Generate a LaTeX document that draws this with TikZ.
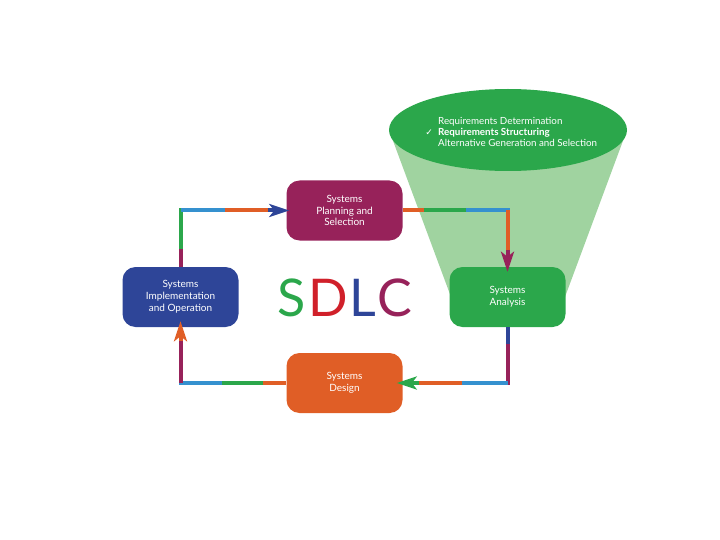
\documentclass[tikz,border=0pt]{standalone}
\usepackage{fontspec}
\setmainfont{Lato}
\newfontfamily\symfont{DejaVu Sans}
\usetikzlibrary{arrows.meta,shapes.geometric}
\definecolor{cpurple}{HTML}{97225A}
\definecolor{cgreen}{HTML}{2BA74B}
\definecolor{corange}{HTML}{E05E26}
\definecolor{cblue}{HTML}{2E4598}
\definecolor{clblue}{HTML}{3591CF}
\definecolor{cred}{HTML}{D0202A}
\definecolor{cfunnel}{HTML}{A0D3A0}
\tikzset{
  phase/.style={rounded corners=13pt, minimum width=116pt, minimum height=60pt,
    inner sep=0pt, text=white, align=center, font=\fontsize{10}{11.8}\selectfont},
  seg/.style={line width=4pt},
  tip/.style={line width=4pt, -{Stealth[length=20pt,width=13pt,inset=5pt]}}
}
\begin{document}
\begin{tikzpicture}[x=1pt,y=-1pt]
\useasboundingbox (0,0) rectangle (720,540);
% funnel and ellipse
\fill[cfunnel] (389,130) -- (454,305) -- (562,305) -- (627,130) -- cycle;
\node[ellipse, fill=cgreen, minimum width=238pt, minimum height=82pt, inner sep=0pt] (ell) at (508,130) {};
\node[anchor=west, text=white, align=left, font=\fontsize{9.8}{10.8}\selectfont, inner sep=0pt] (reqs) at (438,132)
  {Requirements Determination\\\textbf{Requirements Structuring}\\Alternative Generation and Selection};
\node[anchor=east, text=white, font=\symfont\fontsize{9}{10}\selectfont, inner sep=0pt] (chk) at (433,133) {✓};
% boxes
\node[phase, fill=cpurple] (plan) at (344.5,210.5) {Systems\\Planning and\\Selection};
\node[phase, fill=cgreen] (anal) at (507.5,297) {Systems\\Analysis};
\node[phase, fill=corange] (des) at (344.5,383) {Systems\\Design};
\node[phase, fill=cblue] (impl) at (180.5,297) {Systems\\Implementation\\and Operation};
% SDLC
\node[font=\fontsize{52}{52}\selectfont, inner sep=0pt] (sdlc) at (345,298)
  {\textcolor{cgreen}{S}\kern2pt\textcolor{cred}{D}\kern2pt\textcolor{cblue}{L}\kern1pt\textcolor{cpurple}{C}};
% connector 1: impl -> plan
\coordinate (k1) at (impl.north |- plan.west);
\coordinate (a1) at ([yshift=20pt]impl.north);
\coordinate (b1) at ([xshift=44pt]k1);
\coordinate (c1) at ([xshift=88pt]k1);
\draw[seg, cpurple] (impl.north) -- (a1);
\draw[seg, cgreen, line cap=rect] (a1) -- (k1);
\draw[seg, clblue] (k1) -- (b1);
\draw[seg, corange] (b1) -- (c1);
\draw[tip, cblue] ([xshift=-1pt]c1) -- ([xshift=3pt]plan.west);
% connector 2: plan -> anal
\coordinate (k2) at (anal.north |- plan.east);
\coordinate (a2) at ([xshift=21pt]plan.east);
\coordinate (b2) at ([xshift=65pt]plan.east);
\coordinate (c2) at ([yshift=-40pt]k2);
\draw[seg, corange] (plan.east) -- (a2);
\draw[seg, cgreen] (a2) -- (b2);
\draw[seg, clblue, line cap=rect] (b2) -- (k2);
\draw[seg, corange] (k2) -- (c2);
\draw[tip, cpurple] ([yshift=1pt]c2) -- ([yshift=-5pt]anal.north);
% connector 3: anal -> des
\coordinate (k3) at (anal.south |- des.east);
\coordinate (a3) at ([yshift=-19pt]anal.south);
\coordinate (b3) at ([xshift=-46pt]k3);
\coordinate (c3) at ([xshift=-90pt]k3);
\draw[seg, cblue] (anal.south) -- (a3);
\draw[seg, cpurple, line cap=rect] (a3) -- (k3);
\draw[seg, clblue] (k3) -- (b3);
\draw[seg, corange] (b3) -- (c3);
\draw[tip, cgreen] ([xshift=1pt]c3) -- ([xshift=-6pt]des.east);
% connector 4: des -> impl
\coordinate (k4) at (impl.south |- des.west);
\coordinate (a4) at ([xshift=-23pt]des.west);
\coordinate (b4) at ([xshift=-66pt]des.west);
\coordinate (c4) at ([yshift=43pt]k4);
\draw[seg, corange] (des.west) -- (a4);
\draw[seg, cgreen] (a4) -- (b4);
\draw[seg, clblue, line cap=rect] (b4) -- (k4);
\draw[seg, cpurple] (k4) -- (c4);
\draw[tip, corange] ([yshift=-1pt]c4) -- ([yshift=6pt]impl.south);
\end{tikzpicture}
\end{document}
